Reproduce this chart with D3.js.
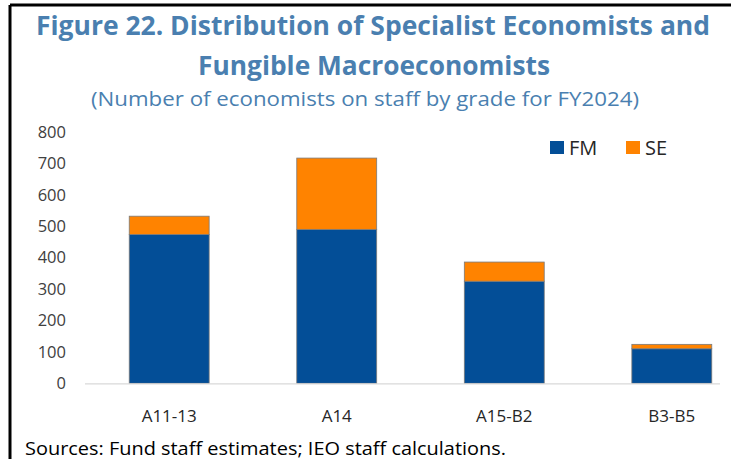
<!DOCTYPE html>
<html>
<head>
<meta charset="utf-8">
<script src="https://cdn.jsdelivr.net/npm/d3@7/dist/d3.min.js"></script>
<style>
  body { margin: 0; background: #fff; }
  svg { display: block; font-family: "Open Sans", "Noto Sans", sans-serif; }
</style>
</head>
<body>
<svg width="731" height="459"></svg>
<script>
// chart data
const grades = ['A11-13', 'A14', 'A15-B2', 'B3-B5'];
const fmValues = [474, 490, 325, 110];
const seValues = [58, 227, 61, 14];
const seriesKeys = ['FM', 'SE'];
const yTicks = [0, 100, 200, 300, 400, 500, 600, 700, 800];

const colors = { FM: '#034e97', SE: '#ff8300' };
const titleColor = '#4a7fb0';

const svg = d3.select('svg');
const width = 731;
const height = 459;

// frame (left and top rules)
svg.append('line').attr('x1', 10).attr('x2', width).attr('y1', 5).attr('y2', 5)
  .attr('stroke', '#000').attr('stroke-width', 3);
svg.append('line').attr('x1', 10).attr('x2', 10).attr('y1', 5).attr('y2', height)
  .attr('stroke', '#000').attr('stroke-width', 3);

// titles
function addText(str, x, y, size, weight, color, len) {
  const t = svg.append('text')
    .attr('x', x).attr('y', y)
    .attr('text-anchor', 'middle')
    .attr('font-size', size)
    .attr('font-weight', weight)
    .attr('fill', color)
    .text(str);
  if (len) t.attr('textLength', len).attr('lengthAdjust', 'spacingAndGlyphs');
  return t;
}
addText('Figure 22. Distribution of Specialist Economists and', 373, 35, 27, 700, titleColor, 674);
addText('Fungible Macroeconomists', 374, 75, 27, 700, titleColor, 352);
addText('(Number of economists on staff by grade for FY2024)', 365, 106, 20, 400, titleColor, 548);

// scales
const x = d3.scaleBand()
  .domain(grades)
  .range([85, 756])
  .paddingInner(0.523)
  .paddingOuter(0.264);

const y = d3.scaleLinear()
  .domain([0, 800])
  .range([383.3, 132]);

// y tick labels
const yAxis = d3.axisLeft(y).tickValues(yTicks).tickSize(0).tickPadding(0);
const yG = svg.append('g').attr('transform', 'translate(66,0)').call(yAxis);
yG.select('.domain').remove();
yG.selectAll('text')
  .attr('font-size', 16.5)
  .attr('font-family', '"Open Sans", sans-serif')
  .attr('fill', '#404040');

// stacked bars
const rows = grades.map((g, i) => ({ grade: g, FM: fmValues[i], SE: seValues[i] }));
const stacked = d3.stack().keys(seriesKeys)(rows);

svg.append('g')
  .selectAll('g')
  .data(stacked)
  .join('g')
  .attr('fill', d => colors[d.key])
  .selectAll('rect')
  .data(d => d)
  .join('rect')
  .attr('x', d => x(d.data.grade))
  .attr('width', x.bandwidth())
  .attr('y', d => y(d[1]))
  .attr('height', d => y(d[0]) - y(d[1]))
  .attr('stroke', '#7a7a7a')
  .attr('stroke-width', 0.8);

// x axis line
svg.append('line')
  .attr('x1', 85).attr('x2', 720)
  .attr('y1', 383.8).attr('y2', 383.8)
  .attr('stroke', '#d9d9d9').attr('stroke-width', 1.2);

// x labels
const xAxis = d3.axisBottom(x).tickSize(0).tickPadding(0);
const xG = svg.append('g').attr('transform', 'translate(0,410)').call(xAxis);
xG.select('.domain').remove();
xG.selectAll('text')
  .attr('font-size', 17)
  .attr('font-family', '"Open Sans", sans-serif')
  .attr('fill', '#262626');

// legend
const legend = svg.append('g').attr('transform', 'translate(550,141)');
const legendX = { FM: 0, SE: 76 };
seriesKeys.forEach(k => {
  const g = legend.append('g').attr('transform', `translate(${legendX[k]},0)`);
  g.append('rect').attr('width', 14).attr('height', 13).attr('fill', colors[k]);
  g.append('text').attr('x', 19).attr('y', 14)
    .attr('font-size', 20).attr('fill', '#262626').text(k);
});

// source note
svg.append('text')
  .attr('x', 25).attr('y', 455)
  .attr('font-size', 18)
  .attr('fill', '#000')
  .attr('textLength', 481)
  .attr('lengthAdjust', 'spacingAndGlyphs')
  .text('Sources: Fund staff estimates; IEO staff calculations.');
</script>
</body>
</html>
